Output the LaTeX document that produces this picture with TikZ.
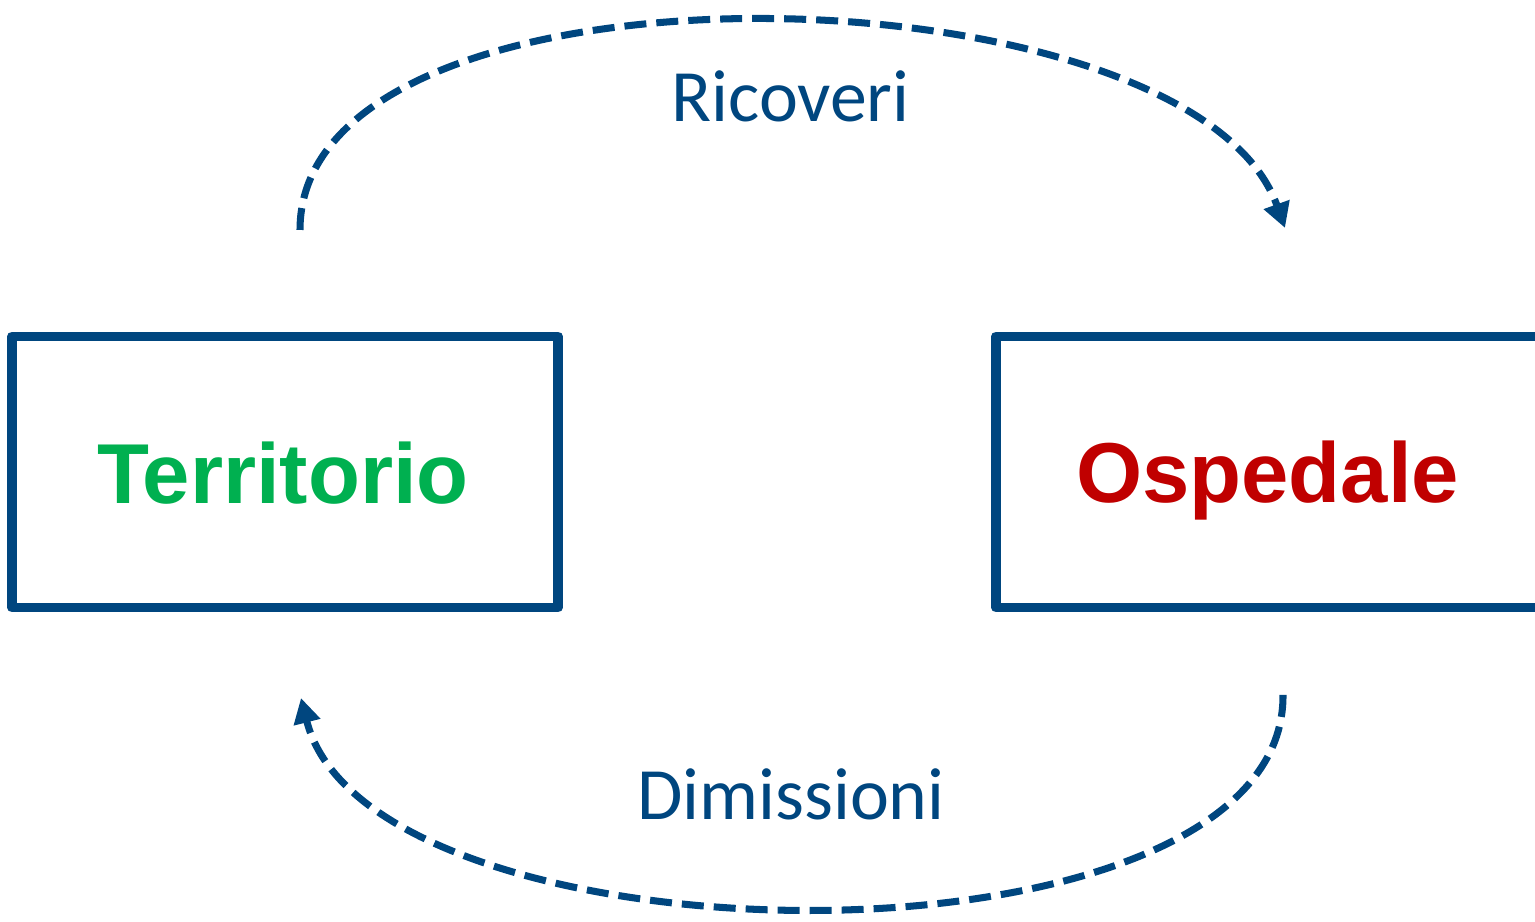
\documentclass[tikz,border=0pt]{standalone}
\usepackage{fontspec}
\setmainfont{Liberation Sans}
\newfontfamily\calib{Carlito}
\usetikzlibrary{arrows.meta}
\definecolor{navy}{HTML}{00467F}
\definecolor{tgreen}{HTML}{00B050}
\definecolor{tred}{HTML}{C00000}
\tikzset{
  box/.style={draw=navy, line width=2.8pt, line join=round, minimum width=5.46cm, minimum height=2.71cm, inner sep=0pt},
  boxtext/.style={font=\fontsize{24.2}{28}\selectfont\bfseries, anchor=base, inner sep=0pt},
  flow/.style={draw=navy, line width=2pt, dash pattern=on 0.22cm off 0.1cm, -{Triangle[width=0.26cm,length=0.25cm]}},
  flowlabel/.style={font=\calib\fontsize{21}{25}\selectfont, text=navy, anchor=base, inner sep=0pt}
}
\begin{document}
\begin{tikzpicture}
\useasboundingbox (0,0) rectangle (15.35,9.22);
\node[box] (terr) at (2.85,4.5) {};
\node[boxtext, text=tgreen] (terrt) at (2.83,4.18) {Territorio};
\node[box] (osp) at (12.69,4.5) {};
\node[boxtext, text=tred] (ospt) at (12.675,4.19) {Ospedale};
\coordinate (a1) at (3.00,6.92);
\coordinate (a2) at (12.85,6.94);
\coordinate (b1) at (12.83,2.27);
\coordinate (b2) at (3.01,2.24);
\draw[flow] (a1) .. controls (3.00,9.80) and (11.9,9.60) .. (a2);
\draw[flow] (b1) .. controls (12.85,-0.61) and (3.7,-0.51) .. (b2);
\node[flowlabel] (ric) at (7.905,8.00) {Ricoveri};
\node[flowlabel] (dim) at (7.91,1.02) {Dimissioni};
\end{tikzpicture}
\end{document}
